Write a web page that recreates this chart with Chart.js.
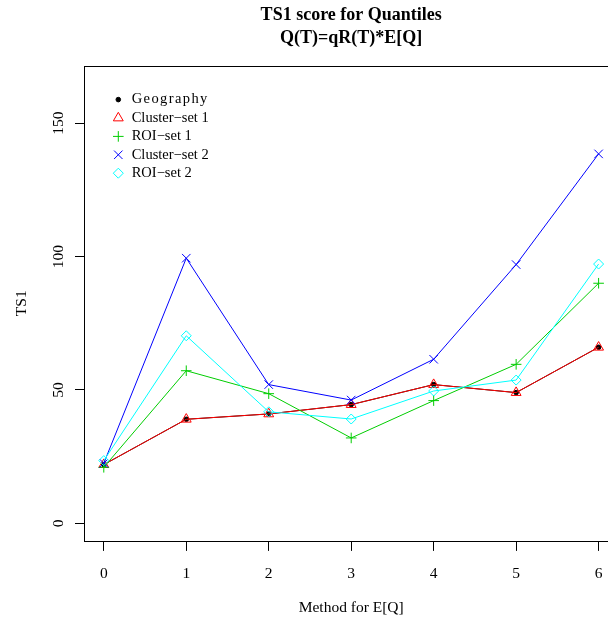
<!DOCTYPE html>
<meta charset="UTF-8" />
<style>
  html, body { margin: 0; padding: 0; overflow: hidden; background: #fff; }
  canvas { display: block; }
</style>
<canvas id="myChart" width="640" height="621"></canvas>
<script src="https://cdn.jsdelivr.net/npm/chart.js@4"></script>
<script>
// values
const methods = [0, 1, 2, 3, 4, 5, 6];
const geography = [22, 39, 41, 44.5, 52, 49, 66];
const cluster1 = [22, 39, 41, 44.5, 52, 49, 66];
const roi1 = [21, 57.2, 48.6, 32, 46, 59.6, 90];
const cluster2 = [22.5, 99.4, 52, 46.2, 61.5, 97, 138.5];
const roi2 = [23.5, 70.3, 41.8, 39.1, 49.6, 53.7, 97.2];
const xTicks = [0, 1, 2, 3, 4, 5, 6];
const yTicks = [0, 50, 100, 150];

const serif = "'Liberation Serif', 'Times New Roman', serif";
Chart.defaults.font.family = serif;
Chart.defaults.color = "#000";

function pts(arr) {
  return methods.map(function (m, i) { return { x: m, y: arr[i] }; });
}

function series(label, arr, color, style, radius, order) {
  return {
    label: label,
    data: pts(arr),
    borderColor: color,
    borderWidth: 1,
    pointStyle: style,
    pointRadius: radius,
    pointBorderColor: color,
    pointBackgroundColor: style == "circle" ? color : "rgba(0,0,0,0)",
    pointBorderWidth: 1,
    order: order
  };
}

const data = {
  datasets: [
    series("Geography", geography, "#000000", "circle", 2.3, 5),
    series("Cluster\u2212set 1", cluster1, "#ff0000", "triangle", 5.7, 4),
    series("ROI\u2212set 1", roi1, "#00cd00", "cross", 5.3, 3),
    series("Cluster\u2212set 2", cluster2, "#0000ff", "crossRot", 6, 2),
    series("ROI\u2212set 2", roi2, "#00ffff", "rectRot", 5, 1)
  ]
};

// R style box round the plot region
const boxPlugin = {
  id: "box",
  beforeDatasetsDraw(chart) {
    const a = chart.chartArea, ctx = chart.ctx;
    ctx.save();
    ctx.strokeStyle = "#000";
    ctx.lineWidth = 1;
    ctx.strokeRect(Math.round(a.left) + 0.5, Math.round(a.top) + 0.5,
      Math.round(a.right - a.left), Math.round(a.bottom - a.top));
    ctx.restore();
  }
};

// legend inside the plot, top left, no frame
const legendPlugin = {
  id: "rlegend",
  afterDatasetsDraw(chart) {
    const a = chart.chartArea, ctx = chart.ctx;
    ctx.save();
    ctx.font = "14.5px " + serif;
    ctx.textBaseline = "middle";
    ctx.textAlign = "left";
    chart.data.datasets.forEach(function (ds, i) {
      const y = a.top + 34 + i * 18.4;
      const x = a.left + 34.3;
      ctx.strokeStyle = ds.pointBorderColor;
      ctx.fillStyle = ds.pointBackgroundColor;
      ctx.lineWidth = 1;
      Chart.helpers.drawPoint(ctx, { pointStyle: ds.pointStyle, rotation: 0, radius: ds.pointRadius, borderWidth: 1 }, x, y);
      ctx.fillStyle = "#000";
      //the first label is printed wider in the original
      ctx.letterSpacing = i == 0 ? "1.4px" : "0px";
      ctx.fillText(ds.label, a.left + 47.7, y);
    });
    ctx.restore();
  }
};

const config = {
  type: "line",
  data: data,
  options: {
    responsive: false,
    animation: false,
    events: [],
    layout: { padding: { left: 0, top: 0, right: 21.6, bottom: 0 } },
    plugins: {
      legend: { display: false },
      tooltip: { enabled: false },
      title: {
        display: true,
        fullSize: false,
        text: ["TS1 score for Quantiles", "Q(T)=qR(T)*E[Q]"],
        color: "#000",
        font: { size: 18, weight: "bold", lineHeight: 23 / 18 },
        padding: { top: 3.6, bottom: 16 }
      }
    },
    scales: {
      x: {
        type: "linear",
        min: -0.24,
        max: 6.24,
        afterBuildTicks: function (s) { s.ticks = xTicks.map(function (v) { return { value: v }; }); },
        afterFit: function (s) { s.height = 80.1; },
        border: { display: false },
        grid: { drawOnChartArea: false, drawTicks: true, tickLength: 10, color: "#000", lineWidth: 1 },
        ticks: { font: { size: 15.5 }, padding: 13.5, maxRotation: 0, color: "#000" },
        title: { display: true, text: "Method for E[Q]", font: { size: 15.5 }, padding: { top: 0, bottom: 4.1 }, color: "#000" }
      },
      y: {
        type: "linear",
        min: -6.6,
        max: 171.6,
        afterBuildTicks: function (s) { s.ticks = yTicks.map(function (v) { return { value: v }; }); },
        afterFit: function (s) { s.width = 84; },
        border: { display: false },
        grid: { drawOnChartArea: false, drawTicks: true, tickLength: 9, color: "#000", lineWidth: 1 },
        ticks: { font: { size: 15.5 }, padding: 4.5, minRotation: 90, maxRotation: 90, crossAlign: "center", color: "#000" },
        title: { display: true, text: "TS1", font: { size: 15.5 }, padding: { top: 12.7, bottom: 0 }, color: "#000" }
      }
    }
  },
  plugins: [boxPlugin, legendPlugin]
};

var myChart = new Chart(document.getElementById("myChart"), config);
</script>
